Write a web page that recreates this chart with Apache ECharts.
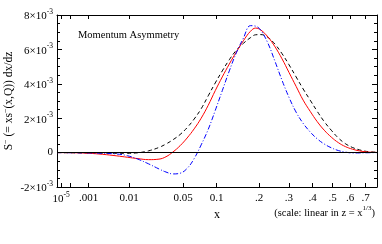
<!DOCTYPE html>
<html><head><meta charset="utf-8">
<script src="https://cdn.jsdelivr.net/npm/echarts@6/dist/echarts.min.js"></script>
<style>html,body{margin:0;padding:0;background:#fff}#c{width:382px;height:244px}</style>
</head><body><div id="c"></div>
<script>
// z = x^(1/3) sample positions
const zs = [0.01,0.06,0.10,0.14,0.18,0.21,0.24,0.27,0.30,0.32,0.34,0.36,0.38,0.40,0.42,0.44,0.46,0.48,0.50,0.52,0.54,0.56,0.575,0.59,0.61,0.63,0.65,0.67,0.69,0.71,0.73,0.75,0.77,0.79,0.81,0.83,0.85,0.87,0.89,0.92];
// values in units of 1e-3
const redVals = [0,-0.01,-0.04,-0.10,-0.19,-0.27,-0.35,-0.41,-0.38,-0.24,0.04,0.40,0.85,1.38,2.0,2.75,3.6,4.4,5.15,5.85,6.5,7.05,7.24,7.12,6.72,6.15,5.45,4.65,3.85,3.05,2.4,1.8,1.3,0.9,0.58,0.35,0.2,0.1,0.04,0.01];
const blackVals = [0,-0.01,-0.02,-0.03,-0.04,-0.04,-0.01,0.1,0.3,0.5,0.75,1.05,1.45,1.95,2.55,3.3,4.05,4.75,5.4,5.95,6.35,6.68,6.85,6.86,6.7,6.3,5.75,5.1,4.4,3.7,3.05,2.4,1.8,1.3,0.85,0.52,0.3,0.16,0.07,0.02];
const blueVals = [0,-0.01,-0.02,-0.04,-0.08,-0.18,-0.38,-0.65,-0.95,-1.13,-1.24,-1.2,-0.92,-0.35,0.45,1.35,2.45,3.6,4.75,5.8,6.65,7.38,7.35,7.1,6.35,5.3,4.2,3.2,2.35,1.7,1.2,0.8,0.5,0.28,0.12,0.03,-0.02,-0.02,-0.01,0];
// x-axis ticks (in x), and their labels
const xTicks = [1e-5,1e-4,0.001,0.01,0.05,0.1,0.2,0.3,0.4,0.5,0.6,0.7];
const xTickLabels = ['10^-5','','.001','0.01','0.05','0.1','.2','.3','.4','.5','.6','.7'];
const yTickLabels = {'-2':'-2×10^-3','0':'0','2':'2×10^-3','4':'4×10^-3','6':'6×10^-3','8':'8×10^-3'};

const zTicks = xTicks.map(x => Math.cbrt(x));
const FONT = 'Liberation Serif';
function sup(s){ const p = s.split('^'); return p.length>1 ? '{b|'+p[0]+'}{s|'+p[1]+'}' : s; }
const rich = { b:{fontFamily:FONT,fontSize:11,color:'#000',lineHeight:14,verticalAlign:'bottom'}, s:{fontFamily:FONT,fontSize:7.5,color:'#000',lineHeight:14,verticalAlign:'top'} };
function pair(zArr, vArr){ return zArr.map((z,i)=>[z,vArr[i]]); }

const chart = echarts.init(document.getElementById('c'), null, {renderer:'canvas'});
const xBase = {type:'value', min:0.01, max:0.92, splitLine:{show:false},
  axisLine:{onZero:false,lineStyle:{color:'#000',width:1}}};
chart.setOption({
  animation:false,
  grid:{left:57, right:5, top:15, bottom:57, containLabel:false, outerBoundsMode:'none'},
  xAxis:[
    Object.assign({}, xBase, {position:'bottom',
      name:'x', nameLocation:'middle', nameGap:22, nameMoveOverlap:false,
      nameTextStyle:{fontFamily:FONT,fontSize:12,color:'#000'},
      axisTick:{inside:true,length:4,customValues:zTicks,lineStyle:{color:'#000'}},
      axisLabel:{margin:4,fontFamily:FONT,fontSize:11,color:'#000',lineHeight:14,customValues:zTicks.filter((z,i)=>xTickLabels[i]!==''),
        formatter:v=>{ let bi=0,bd=1e9; zTicks.forEach((z,i)=>{const d=Math.abs(z-v); if(d<bd){bd=d;bi=i;}}); return sup(xTickLabels[bi]); }, rich:rich}}),
    Object.assign({}, xBase, {position:'top',
      axisTick:{inside:true,length:4,customValues:zTicks,lineStyle:{color:'#000'}},
      axisLabel:{show:false}})
  ],
  yAxis:[
    {type:'value',min:-2,max:8,interval:2,position:'left',splitLine:{show:false},
     axisLine:{show:true,onZero:false,lineStyle:{color:'#000'}},
     axisTick:{inside:true,length:5,lineStyle:{color:'#000'}},
     minorTick:{show:true,splitNumber:4,length:3,lineStyle:{color:'#000'}},
     axisLabel:{margin:4,fontFamily:FONT,fontSize:11,color:'#000',formatter:v=>sup(yTickLabels[String(Math.round(v))]||''),rich:rich},
     name:'{b|S}{s|\u2212}{b| (= xs}{s|\u2212}{b|(x,Q)) dx/dz}', nameLocation:'middle', nameGap:42, nameRotate:90, nameMoveOverlap:false,
     nameTextStyle:{rich:{b:{fontFamily:FONT,fontSize:11.5,color:'#000',lineHeight:13,verticalAlign:'bottom'},s:{fontFamily:FONT,fontSize:8,color:'#000',lineHeight:13,verticalAlign:'top'}}}},
    {type:'value',min:-2,max:8,interval:2,position:'right',splitLine:{show:false},
     axisLine:{show:true,onZero:false,lineStyle:{color:'#000'}},
     axisTick:{inside:true,length:5,lineStyle:{color:'#000'}},
     minorTick:{show:true,splitNumber:4,length:3,lineStyle:{color:'#000'}},
     axisLabel:{show:false}}
  ],
  graphic:[
    {type:'text',left:78,top:30,style:{text:'Momentum Asymmetry',font:'10.5px "Liberation Serif"',fill:'#000'}},
    {type:'text',right:7,top:205,style:{rich:{b:{fontFamily:FONT,fontSize:10.5,fill:'#000',lineHeight:14,verticalAlign:'bottom'},s:{fontFamily:FONT,fontSize:7,fill:'#000',lineHeight:14,verticalAlign:'top'}},text:'{b|(scale: linear in z = x}{s|1/3}{b|)}'}}
  ],
  series:[
    {type:'line',data:pair(zs,blackVals),symbol:'none',smooth:0.4,lineStyle:{color:'#000',width:1,type:[4,3]},
     markLine:{silent:true,symbol:'none',label:{show:false},lineStyle:{color:'#000',width:1,type:'solid'},data:[{yAxis:0}]}},
    {type:'line',data:pair(zs,redVals),symbol:'none',smooth:0.4,lineStyle:{color:'#ff0000',width:1,type:'solid'}},
    {type:'line',data:pair(zs,blueVals),symbol:'none',smooth:0.4,lineStyle:{color:'#0000ff',width:1,type:[5,2,1,2]}}
  ]
});
</script></body></html>
